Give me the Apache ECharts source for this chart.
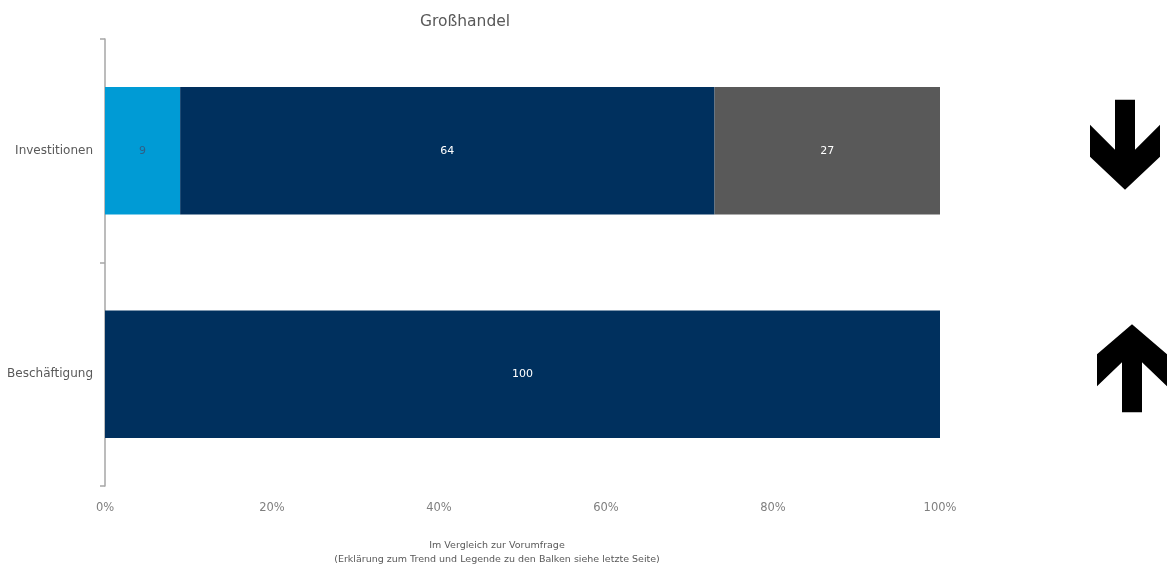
<!DOCTYPE html>
<html>
<head>
<meta charset="utf-8">
<script src="https://cdn.jsdelivr.net/npm/echarts@6/dist/echarts.min.js"></script>
<style>
  html, body { margin: 0; padding: 0; background: #ffffff; }
  #chart { width: 1176px; height: 572px; }
</style>
</head>
<body>
<div id="chart"></div>
<script>
// Categories (top to bottom) and stacked shares in percent
const categories = ['Investitionen', 'Beschäftigung'];
const steigen = [9, 0];
const gleich = [64, 100];
const sinken = [27, 0];
// Trend compared with previous survey: 'down' or 'up'
const trend = ['down', 'up'];
const xTicks = [0, 20, 40, 60, 80, 100];

const FONT = '"DejaVu Sans", sans-serif';

const chart = echarts.init(document.getElementById('chart'), null, { renderer: 'canvas' });

function barLabel(color) {
  return {
    show: true,
    position: 'inside',
    color: color,
    fontFamily: FONT,
    fontSize: 11,
    formatter: p => (p.value ? String(p.value) : '')
  };
}

const option = {
  animation: false,
  backgroundColor: '#ffffff',
  grid: { left: 105, right: 236, top: 39, bottom: 86, containLabel: false },
  xAxis: {
    type: 'value',
    min: 0,
    max: 100,
    interval: 20,
    axisLine: { show: false },
    axisTick: { show: false },
    splitLine: { show: false },
    axisLabel: {
      margin: 16,
      color: '#7f7f7f',
      fontFamily: FONT,
      fontSize: 11.5,
      formatter: v => (xTicks.includes(v) ? v + '%' : '')
    }
  },
  yAxis: {
    type: 'category',
    data: categories,
    inverse: true,
    axisLine: { show: true, lineStyle: { color: '#a6a6a6', width: 1.5 } },
    axisTick: { show: true, length: 5, inside: false, lineStyle: { color: '#a6a6a6', width: 1.5 } },
    axisLabel: { margin: 12, color: '#595959', fontFamily: FONT, fontSize: 12 },
    splitLine: { show: false }
  },
  series: [
    {
      name: 'steigen', type: 'bar', stack: 'total', barWidth: '57%',
      itemStyle: { color: '#009BD5' },
      label: barLabel('#2f5f86'),
      data: steigen
    },
    {
      name: 'gleich', type: 'bar', stack: 'total', barWidth: '57%',
      itemStyle: { color: '#00305E' },
      label: barLabel('#ffffff'),
      data: gleich
    },
    {
      name: 'sinken', type: 'bar', stack: 'total', barWidth: '57%',
      itemStyle: { color: '#595959' },
      label: barLabel('#ffffff'),
      data: sinken
    }
  ]
};

chart.setOption(option);

// Title and footnote
const texts = [
  {
    type: 'text', x: 465, y: 14,
    style: {
      text: 'Großhandel', textAlign: 'center', textVerticalAlign: 'top',
      fill: '#595959', fontFamily: FONT, fontSize: 15.5
    }
  },
  {
    type: 'text', x: 497, y: 539,
    style: {
      text: 'Im Vergleich zur Vorumfrage\n(Erklärung zum Trend und Legende zu den Balken siehe letzte Seite)',
      textAlign: 'center', textVerticalAlign: 'top',
      fill: '#595959', fontFamily: FONT, fontSize: 9.5, lineHeight: 14
    }
  }
];

// Trend arrows to the right of each bar, centred on the category
const arrowShapes = {
  down: { cx: 1125, pts: [[-10, -51], [10, -51], [10, -1], [35, -26], [35, 6], [0, 39], [-35, 6], [-35, -26], [-10, -1]] },
  up: { cx: 1132, pts: [[0, -50], [35, -20], [35, 12], [10, -12], [10, 38], [-10, 38], [-10, -12], [-35, 12], [-35, -20]] }
};
const arrowGraphics = categories.map((c, i) => {
  const cy = chart.convertToPixel({ yAxisIndex: 0 }, c);
  const shape = arrowShapes[trend[i]];
  return {
    type: 'polygon',
    shape: { points: shape.pts.map(([dx, dy]) => [shape.cx + dx, cy + dy]) },
    style: { fill: '#000000' }
  };
});
chart.setOption({ graphic: texts.concat(arrowGraphics) });
</script>
</body>
</html>
